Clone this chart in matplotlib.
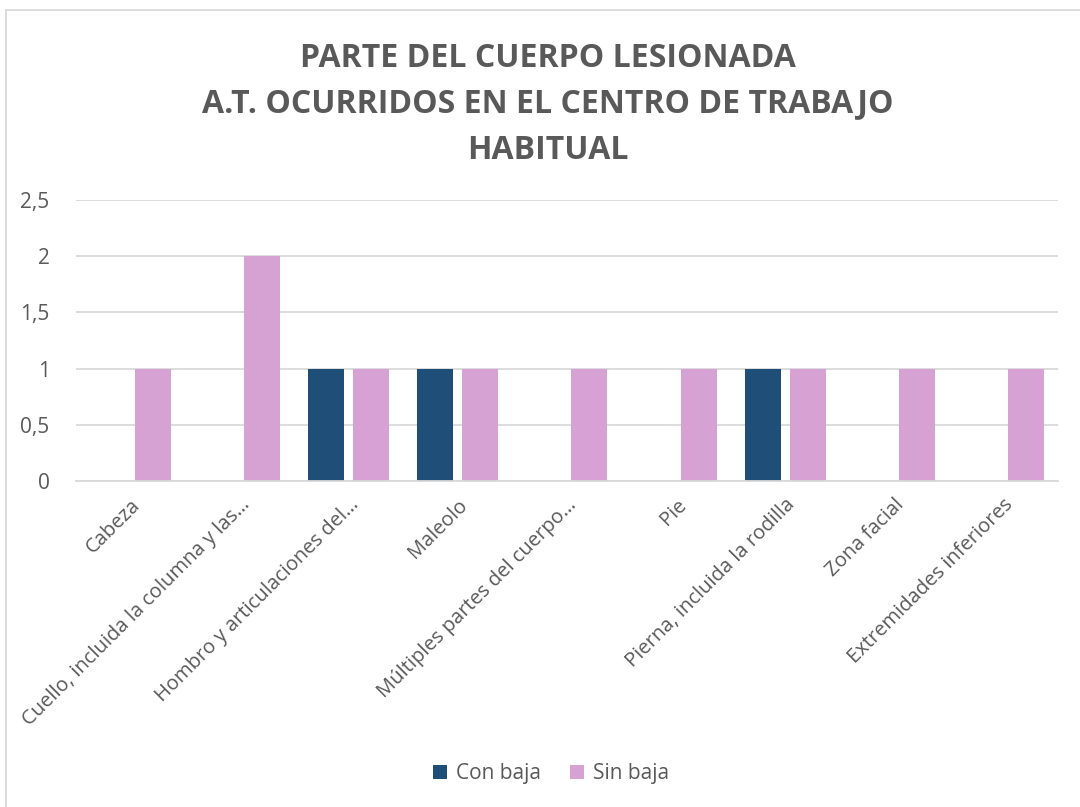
import numpy as np
import matplotlib
matplotlib.use("Agg")
import matplotlib.pyplot as plt
from matplotlib.patches import Rectangle

plt.rcParams['font.family'] = ['Open Sans', 'DejaVu Sans']

categories = ["Cabeza",
              "Cuello, incluida la columna y las…",
              "Hombro y articulaciones del…",
              "Maleolo",
              "Múltiples partes del cuerpo…",
              "Pie",
              "Pierna, incluida la rodilla",
              "Zona facial",
              "Extremidades inferiores"]
con_baja = [0, 0, 1, 1, 0, 0, 1, 0, 0]
sin_baja = [1, 2, 1, 1, 1, 1, 1, 1, 1]
yticks = [0, 0.5, 1, 1.5, 2, 2.5]
ytick_labels = ["0", "0,5", "1", "1,5", "2", "2,5"]

txt = '#595959'
fig = plt.figure(figsize=(10.8, 8.07), dpi=100)
ax = fig.add_axes([0.0704, 0.404, 0.9092, 0.348])

x = np.arange(len(categories))
w = 0.33
off = 0.206
ax.bar(x - off, con_baja, w, color='#1F4E79', label='Con baja')
ax.bar(x + off, sin_baja, w, color='#D6A2D4', label='Sin baja')

ax.set_xlim(-0.5, len(categories) - 0.5)
ax.set_ylim(0, 2.5)
ax.set_yticks(yticks)
ax.set_yticklabels(ytick_labels, fontsize=15, color=txt)
ax.set_xticks(x)
ax.set_xticklabels(categories, rotation=45, ha='right', rotation_mode='anchor',
                   fontsize=14.5, color=txt)
ax.tick_params(axis='both', length=0)
ax.tick_params(axis='y', pad=19)
ax.tick_params(axis='x', pad=10)
ax.grid(axis='y', color='#D9D9D9', linewidth=1.3)
ax.set_axisbelow(True)
for s in ['top', 'right', 'left']:
    ax.spines[s].set_visible(False)
ax.spines['bottom'].set_color('#D9D9D9')
ax.spines['bottom'].set_linewidth(1.3)

title_lines = ["PARTE DEL CUERPO LESIONADA",
               "A.T. OCURRIDOS EN EL CENTRO DE TRABAJO",
               "HABITUAL"]
for i, line in enumerate(title_lines):
    fig.text(0.507, 0.928 - i * 0.057, line, ha='center', va='center',
             fontsize=23, fontweight='bold', color=txt)

leg = fig.legend(loc='center', bbox_to_anchor=(0.51, 0.041), ncol=2, frameon=False,
                 fontsize=15, handlelength=0.7, handleheight=0.7, columnspacing=1.4,
                 handletextpad=0.4)
for t in leg.get_texts():
    t.set_color(txt)

fig.patches.append(Rectangle((6 / 1080, -0.1), 1.2, 1 - 10 / 807 + 0.1,
                             transform=fig.transFigure, fill=False,
                             edgecolor='#D9D9D9', linewidth=1.3))

fig.savefig("out.png", dpi=100)
